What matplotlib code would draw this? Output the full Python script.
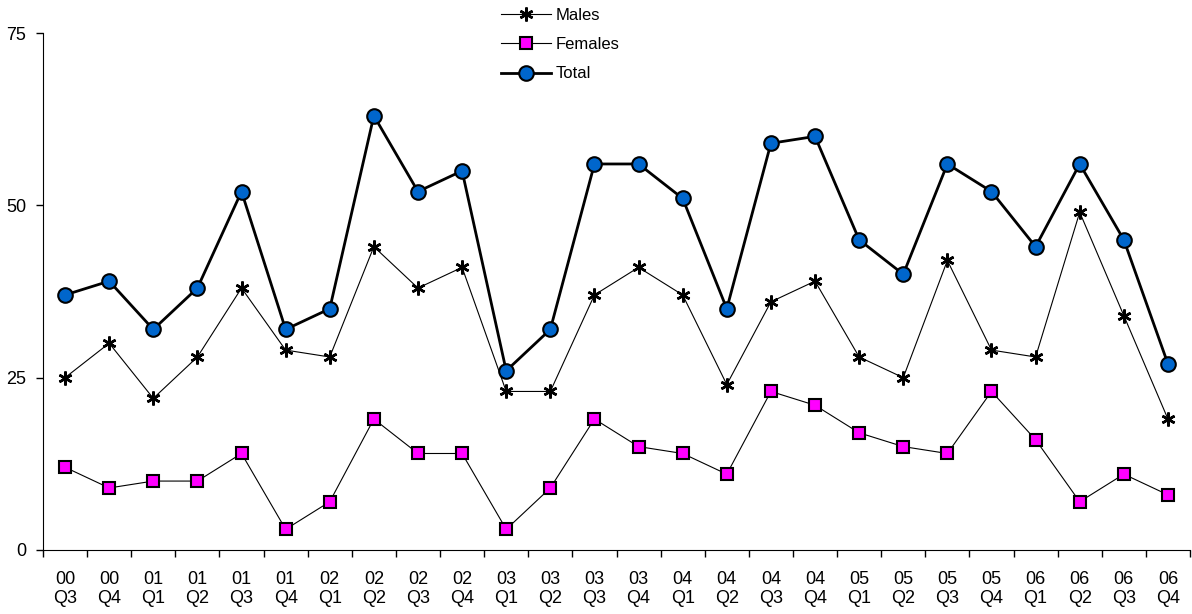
import matplotlib.pyplot as plt
import numpy as np

plt.rcParams['font.family'] = ['Liberation Sans', 'DejaVu Sans']

# quarter labels (year / quarter)
years = ['00', '00', '01', '01', '01', '01', '02', '02', '02', '02', '03', '03', '03',
         '03', '04', '04', '04', '04', '05', '05', '05', '05', '06', '06', '06', '06']
quarters = ['Q3', 'Q4', 'Q1', 'Q2', 'Q3', 'Q4', 'Q1', 'Q2', 'Q3', 'Q4', 'Q1', 'Q2', 'Q3',
            'Q4', 'Q1', 'Q2', 'Q3', 'Q4', 'Q1', 'Q2', 'Q3', 'Q4', 'Q1', 'Q2', 'Q3', 'Q4']

males = [25, 30, 22, 28, 38, 29, 28, 44, 38, 41, 23, 23, 37,
         41, 37, 24, 36, 39, 28, 25, 42, 29, 28, 49, 34, 19]
females = [12, 9, 10, 10, 14, 3, 7, 19, 14, 14, 3, 9, 19,
           15, 14, 11, 23, 21, 17, 15, 14, 23, 16, 7, 11, 8]
total = [37, 39, 32, 38, 52, 32, 35, 63, 52, 55, 26, 32, 56,
         56, 51, 35, 59, 60, 45, 40, 56, 52, 44, 56, 45, 27]

labels = [y + '\n' + q for y, q in zip(years, quarters)]
x = np.arange(len(labels))

fig = plt.figure(figsize=(11.92, 6.14), dpi=100)
ax = fig.add_axes([43 / 1192, 1 - 550 / 614, (1190 - 43) / 1192, (550 - 33) / 614])

ax.plot(x, males, color='black', linewidth=0.8, marker=(6, 2, 0), markersize=10,
        markeredgewidth=1.8, markeredgecolor='black', label='Males', zorder=3)
ax.plot(x, females, color='black', linewidth=0.8, marker='s', markersize=8,
        markerfacecolor='#FF00FF', markeredgecolor='black', markeredgewidth=1.5,
        label='Females', zorder=3)
ax.plot(x, total, color='black', linewidth=2.0, marker='o', markersize=10.5,
        markerfacecolor='#0066CC', markeredgecolor='black', markeredgewidth=1.5,
        label='Total', zorder=4)

ax.set_xlim(-0.5, len(labels) - 0.5)
ax.set_ylim(0, 75)
ax.set_yticks([0, 25, 50, 75])

# ticks between categories, labels at centres
ax.set_xticks(np.arange(-0.5, len(labels)), minor=False)
ax.set_xticklabels([])
ax.set_xticks(x, minor=True)
ax.set_xticklabels(labels, minor=True)
ax.tick_params(axis='x', which='major', direction='out', length=5, width=1)
ax.tick_params(axis='x', which='minor', length=0, pad=15, labelsize=13)
ax.tick_params(axis='y', direction='out', length=5, width=1, labelsize=13, pad=7)

for s in ['top', 'right']:
    ax.spines[s].set_visible(False)

fig.legend(loc='upper left', bbox_to_anchor=(501 / 1192, 1 - 8 / 614),
           bbox_transform=fig.transFigure, frameon=False, fontsize=12,
           handlelength=3.0, handletextpad=0.3, labelspacing=0.85,
           borderpad=0, borderaxespad=0)

fig.savefig('out.png', dpi=100)
